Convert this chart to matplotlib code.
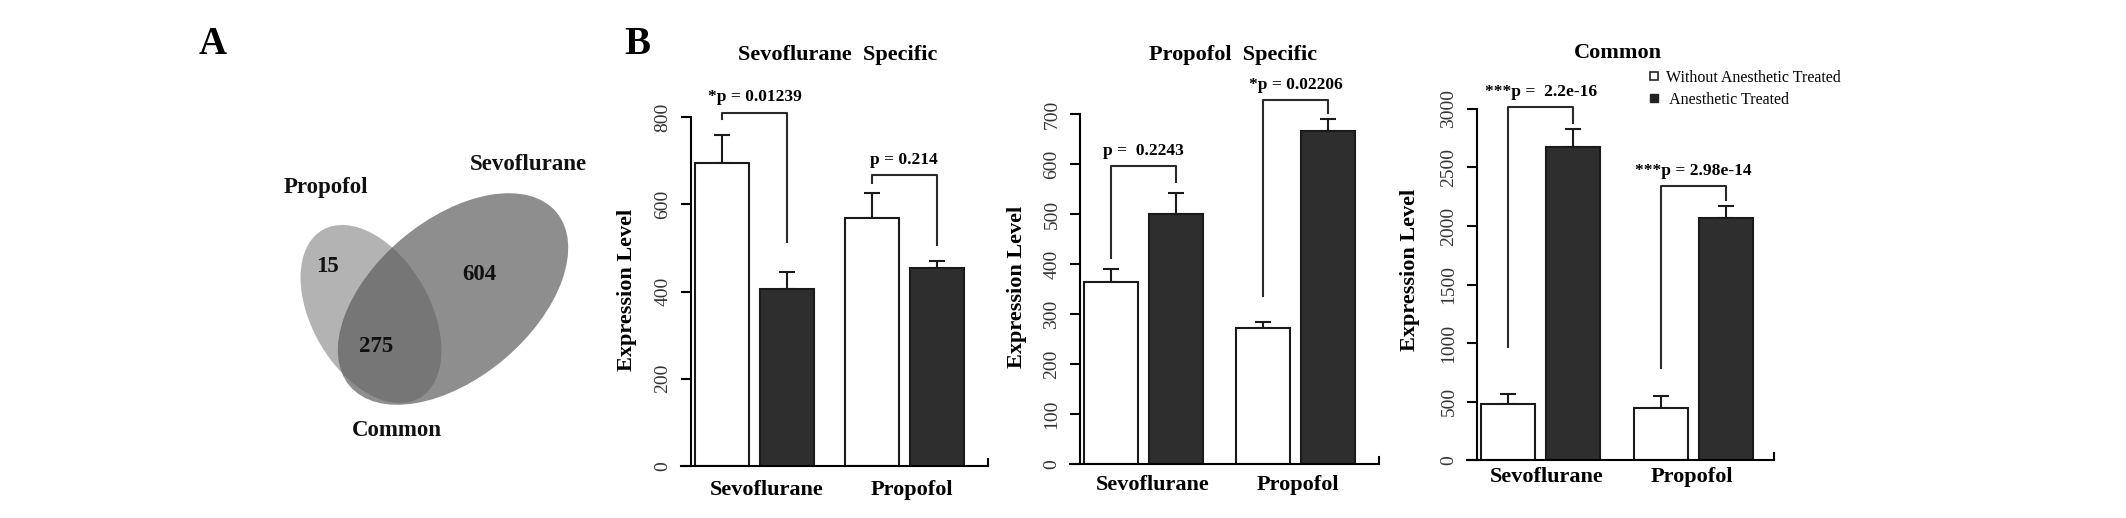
import matplotlib
matplotlib.use('Agg')
import matplotlib.pyplot as plt
from matplotlib.patches import Ellipse
from matplotlib.lines import Line2D

plt.rcParams['font.family'] = ['Liberation Serif', 'DejaVu Serif']

W, H = 2126, 518

# ---- data ----
venn_names = ['Propofol', 'Sevoflurane', 'Common']
venn_counts = [15, 604, 275]          # propofol only, sevoflurane only, common

groups = ['Sevoflurane', 'Propofol']
series = ['Without Anesthetic Treated', ' Anesthetic Treated']
titles = ['Sevoflurane  Specific', 'Propofol  Specific', 'Common']

sevo_without = [695, 569]
sevo_without_err = [64, 57]
sevo_with = [406, 454]
sevo_with_err = [39, 16]

prop_without = [364, 272]
prop_without_err = [26, 12]
prop_with = [500, 666]
prop_with_err = [42, 24]

common_without = [479, 444]
common_without_err = [85, 103]
common_with = [2675, 2068]
common_with_err = [154, 103]

sevo_p = ['*p = 0.01239', 'p = 0.214']
prop_p = ['p =  0.2243', '*p = 0.02206']
common_p = ['***p =  2.2e-16', '***p = 2.98e-14']

# bracket: top, bottom of left leg, bottom of right leg
sevo_br = [[810, 795, 513], [667, 649, 507]]
prop_br = [[596, 412, 564], [728, 336, 702]]
common_br = [[3017, 966, 2880], [2342, 786, 2222]]

yticks_all = [range(0, 801, 200), range(0, 701, 100), range(0, 3001, 500)]

fig = plt.figure(figsize=(W / 100, H / 100), dpi=100)


def px_axes(left, top, right, bottom):
    return fig.add_axes([left / W, 1 - bottom / H, (right - left) / W, (bottom - top) / H])


def ftext(x, y, s, **kw):
    fig.text(x / W, 1 - y / H, s, **kw)


# ---- panel A: venn ----
va = px_axes(0, 0, 620, H)
va.set_xlim(0, 620)
va.set_ylim(H, 0)
va.axis('off')
va.add_patch(Ellipse((371, 314), 2 * 97, 2 * 59, angle=60, facecolor='#b3b3b3', edgecolor='none'))
va.add_patch(Ellipse((453, 299), 2 * 135, 2 * 79, angle=-40, facecolor='#5b5b5b', alpha=0.69, edgecolor='none'))
vt = dict(fontsize=16.5, fontweight='bold', ha='center', va='center', color='#111')
va.text(328, 267, str(venn_counts[0]), **vt)
va.text(479, 275, str(venn_counts[1]), **vt)
va.text(376, 347, str(venn_counts[2]), **vt)
va.text(326, 187, venn_names[0], **vt)
va.text(528, 165, venn_names[1], **vt)
va.text(397, 430, venn_names[2], **vt)

ftext(213, 45, 'A', fontsize=28, fontweight='bold', ha='center', va='center')
ftext(637, 45, 'B', fontsize=28, fontweight='bold', ha='center', va='center')

# ---- panel B: bar charts ----
# layout in pixels: x axis start/end, y axis x, zero y, px per unit, group0 centre, group spacing
layouts = [
    dict(xa0=681, xa1=988, yax=691, y0=466, ppu=349 / 800, g0=754.5, sp=149.5,
         lab_dx=[12.5, 8], lab_pad=10),
    dict(xa0=1070, xa1=1379, yax=1080, y0=464, ppu=350 / 700, g0=1143.75, sp=151.75,
         lab_dx=[9, 2.5], lab_pad=8),
    dict(xa0=1467, xa1=1774, yax=1477, y0=460, ppu=351 / 3000, g0=1540.75, sp=152.5,
         lab_dx=[6, -1], lab_pad=5),
]
without_all = [(sevo_without, sevo_without_err), (prop_without, prop_without_err),
               (common_without, common_without_err)]
with_all = [(sevo_with, sevo_with_err), (prop_with, prop_with_err), (common_with, common_with_err)]
p_all = [sevo_p, prop_p, common_p]
br_all = [sevo_br, prop_br, common_br]
title_pos = [(838, 55), (1233, 55), (1618, 53)]
ylab_pos = [(627, 290), (1017, 287), (1410, 270)]

for k, L in enumerate(layouts):
    top_px = 100
    ax = px_axes(L['xa0'], top_px, L['xa1'], L['y0'])
    ax.set_ylim(0, (L['y0'] - top_px) / L['ppu'])
    ax.set_xlim((L['xa0'] - L['g0']) / L['sp'], (L['xa1'] - L['g0']) / L['sp'])
    off = 32.5 / L['sp']
    bw = 54 / L['sp']
    xs = range(len(groups))
    xw = [x - off for x in xs]
    xb = [x + off for x in xs]
    m0, e0 = without_all[k]
    m1, e1 = with_all[k]
    ax.bar(xw, m0, width=bw, color='white', edgecolor='#1a1a1a', linewidth=1.5, zorder=2)
    ax.bar(xb, m1, width=bw, color='#2e2e2e', edgecolor='#1a1a1a', linewidth=1.5, zorder=2)
    ax.errorbar(xw, m0, yerr=[[0] * len(m0), e0], fmt='none', ecolor='#1a1a1a',
                elinewidth=1.5, capsize=6, capthick=1.5, zorder=1)
    ax.errorbar(xb, m1, yerr=[[0] * len(m1), e1], fmt='none', ecolor='#1a1a1a',
                elinewidth=1.5, capsize=6, capthick=1.5, zorder=1)

    for i, (top, lb, rb) in enumerate(br_all[k]):
        ax.plot([xw[i], xw[i], xb[i], xb[i]], [lb, top, top, rb], color='#2a2a2a',
                lw=1.5, clip_on=False)
        ax.annotate(p_all[k][i], (xs[i], top), xytext=(0, 11), textcoords='offset points',
                    ha='center', va='center', fontsize=12.5, fontweight='bold',
                    annotation_clip=False)

    for s in ['top', 'right']:
        ax.spines[s].set_visible(False)
    ax.spines['left'].set_position(('data', (L['yax'] - L['g0']) / L['sp']))
    yt = list(yticks_all[k])
    ax.spines['left'].set_bounds(yt[0], yt[-1])
    ax.spines['left'].set_linewidth(1.5)
    ax.spines['bottom'].set_linewidth(1.5)
    ax.plot([1, 1], [0, 7 / L['ppu']], color='black', lw=1.5,
            transform=ax.get_yaxis_transform(), clip_on=False)
    ax.set_yticks(yt)
    ax.set_yticklabels([str(v) for v in yt], rotation=90, va='center')
    ax.tick_params(axis='y', direction='out', length=7, width=1.5, pad=7,
                   labelsize=14, labelcolor='#333')
    ax.set_xticks([x + d / L['sp'] for x, d in zip(xs, L['lab_dx'])])
    ax.set_xticklabels(groups, fontsize=16, fontweight='bold')
    ax.tick_params(axis='x', length=0, pad=L['lab_pad'])

    ftext(*title_pos[k], titles[k], fontsize=16, fontweight='bold', ha='center', va='center')
    ftext(*ylab_pos[k], 'Expression Level', fontsize=16, fontweight='bold',
          ha='center', va='center', rotation=90)

    if k == 2:
        handles = [Line2D([], [], ls='none', marker='s', markersize=6, markerfacecolor='white',
                          markeredgecolor='#222', markeredgewidth=1.2),
                   Line2D([], [], ls='none', marker='s', markersize=6, markerfacecolor='#222',
                          markeredgecolor='#222')]
        fig.legend(handles, series, loc='upper left', bbox_to_anchor=(1648 / W, 1 - 70 / H),
                   frameon=False, fontsize=11.5, handlelength=0.8, handletextpad=0.3,
                   borderpad=0, borderaxespad=0, labelspacing=0.35)

fig.savefig('out.png', dpi=100)
